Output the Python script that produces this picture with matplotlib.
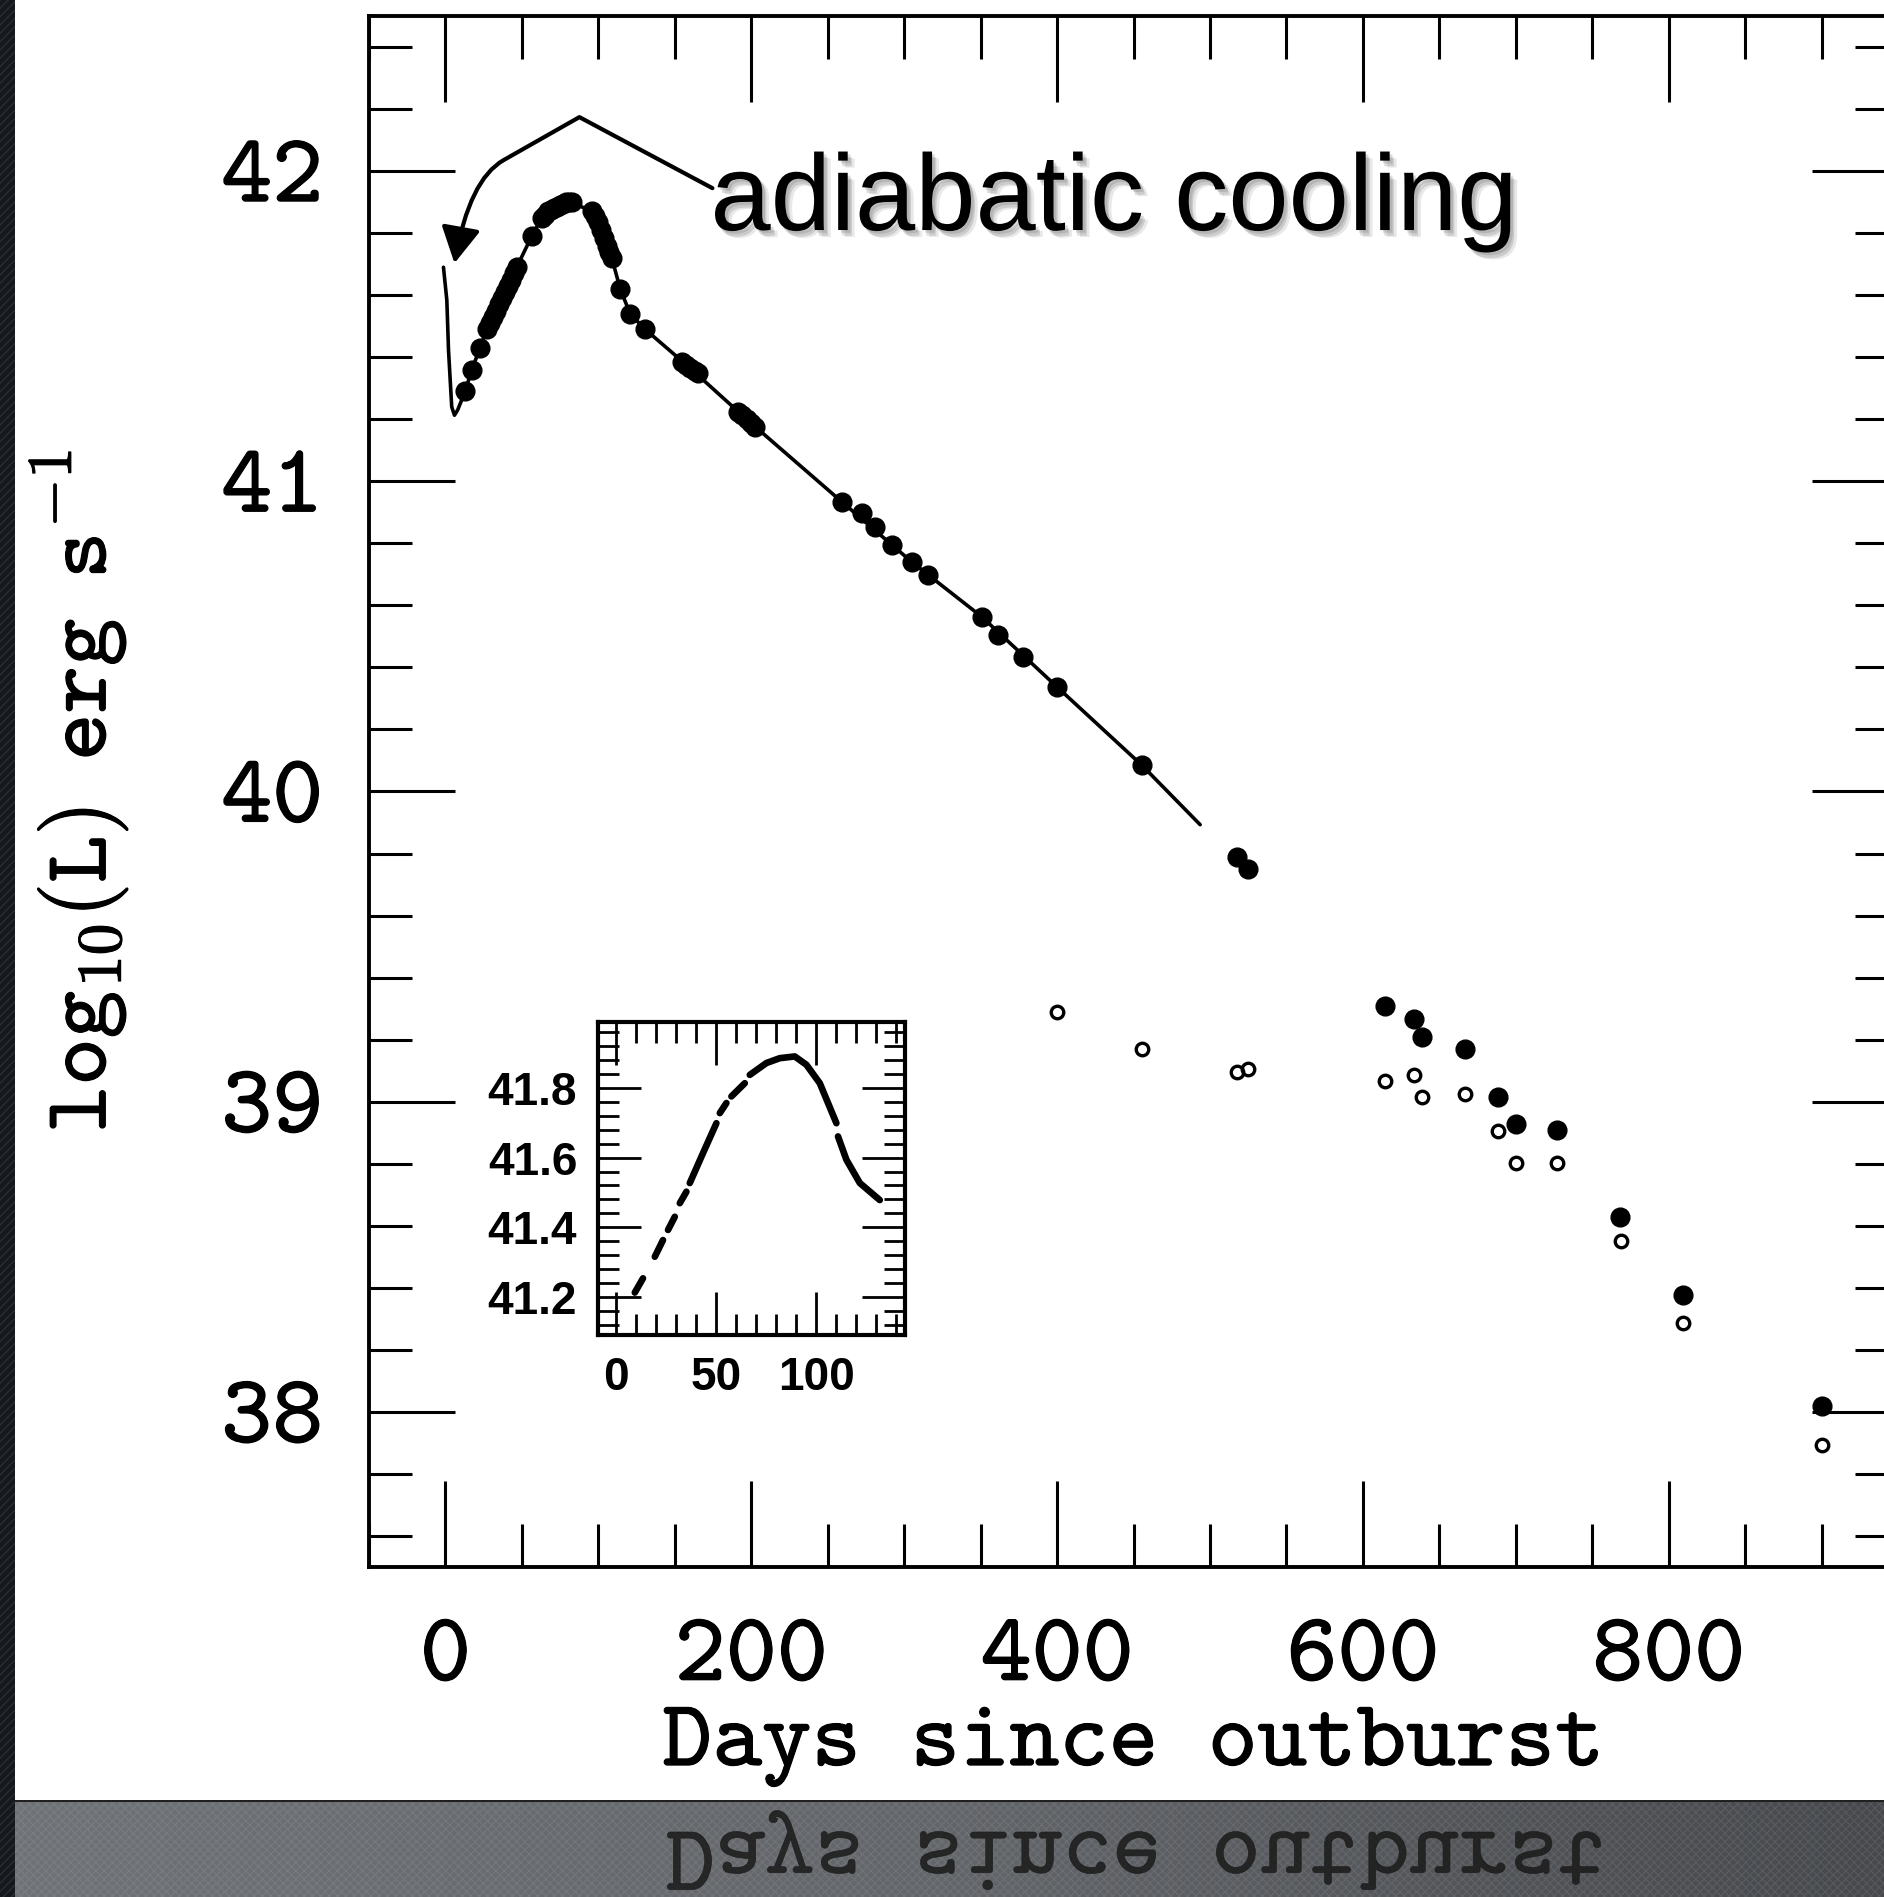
import numpy as np
import matplotlib
matplotlib.use("Agg")
import matplotlib.pyplot as plt
import matplotlib.patheffects as pe
from matplotlib.ticker import MultipleLocator
from matplotlib.patches import Rectangle, PathPatch, FancyArrowPatch
from matplotlib.path import Path
from matplotlib.textpath import TextPath
from matplotlib.font_manager import FontProperties
from matplotlib.transforms import Affine2D
from matplotlib.colors import LinearSegmentedColormap

plt.rcParams['font.family'] = 'cmtt10'
plt.rcParams['mathtext.fontset'] = 'cm'
plt.rcParams['axes.unicode_minus'] = False

nan = np.nan

# model light curve (solid line)
model_days = [-1.3, 0.9, 2.0, 4.1, 5.9, 8.0, 12.9, 17.2, 22.7, 27.0, 37.0, 46.6,
              56.4, 63.0, 72.0, 82.6, 89.0, 95.7, 103.0, 108.8, 114.3, 120.8,
              130.6, 160.0, 197.0, 259.2, 305.0, 350.8, 399.8, 455.4, 493.6]
model_logL = [41.69, 41.584, 41.423, 41.24, 41.213, 41.23, 41.29, 41.36, 41.43,
              41.49, 41.59, 41.69, 41.79, 41.85, 41.882, 41.90, 41.885, 41.87,
              41.79, 41.72, 41.62, 41.54, 41.49, 41.365, 41.20, 40.934, 40.74,
              40.563, 40.338, 40.085, 39.893]

# bolometric points (filled)
bol_days = [12.9, 17.2, 22.7, 27.0, 29.0, 31.0, 33.0, 35.0, 37.0, 39.0, 41.0,
            43.0, 45.0, 46.6, 56.4, 63.0, 65.0, 67.0, 69.0, 71.0, 73.0, 75.0,
            77.0, 79.0, 81.0, 82.6, 95.7, 97.5, 99.5, 101.5, 103.5, 105.5,
            107.0, 108.8, 114.3, 120.8, 130.6, 154.5, 157.0, 160.0, 163.0,
            165.5, 191.6, 194.0, 197.0, 200.0, 202.6, 259.2, 272.3, 281.0,
            291.9, 305.0, 315.9, 350.8, 361.7, 378.0, 399.8, 455.4, 517.5,
            525.2, 614.4, 633.4, 638.7, 666.8, 688.2, 699.9, 726.7, 768.1,
            809.5, 900.1]
bol_logL = [41.29, 41.36, 41.43, 41.49, 41.51, 41.53, 41.55, 41.57, 41.59,
            41.61, 41.63, 41.65, 41.67, 41.69, 41.79, 41.85, 41.86, 41.87,
            41.875, 41.88, 41.885, 41.89, 41.895, 41.90, 41.90, 41.90, 41.87,
            41.855, 41.835, 41.81, 41.785, 41.76, 41.74, 41.72, 41.62, 41.54,
            41.49, 41.385, 41.375, 41.365, 41.355, 41.348, 41.224, 41.213,
            41.20, 41.187, 41.176, 40.934, 40.897, 40.853, 40.794, 40.74,
            40.698, 40.563, 40.504, 40.434, 40.338, 40.085, 39.79, 39.75,
            39.308, 39.268, 39.208, 39.17, 39.016, 38.929, 38.909, 38.629,
            38.378, 38.019]

# open circles
low_days = [399.8, 455.4, 517.5, 525.2, 614.4, 633.4, 638.7, 666.8, 688.2,
            700.3, 727.1, 768.6, 809.5, 900.6]
low_logL = [39.29, 39.17, 39.096, 39.104, 39.067, 39.085, 39.014, 39.025,
            38.907, 38.802, 38.802, 38.55, 38.287, 37.893]

# inset: early light curve, pieces split by gaps
inset_days = [9.2, 13.3, nan, 19.2, 23.3, nan, 25.8, 29.2, nan, 31.7, 35.0, nan,
              36.7, 43.3, 50.0, nan, 51.7, 55.0, nan, 57.5, 64.2, nan, 66.7,
              75.0, 81.7, 89.2, 95.0, 101.7, 110.0, nan, 110.8, 115.0, 121.7,
              131.7]
inset_logL = [41.212, 41.253, nan, 41.315, 41.363, nan, 41.392, 41.43, nan,
              41.469, 41.502, nan, 41.527, 41.613, 41.699, nan, 41.728, 41.757,
              nan, 41.776, 41.814, nan, 41.838, 41.872, 41.886, 41.891, 41.867,
              41.814, 41.699, nan, 41.661, 41.594, 41.527, 41.478]

xticks_main = [0, 200, 400, 600, 800]
yticks_main = [38, 39, 40, 41, 42]
xticks_inset = [0, 50, 100]
yticks_inset = [41.2, 41.4, 41.6, 41.8]

W, H = 1884, 1897
fig = plt.figure(figsize=(W / 100, H / 100), dpi=100)
fig.patch.set_facecolor('white')


def px_box(left, top, right, bottom):
    return [left / W, 1 - bottom / H, (right - left) / W, (bottom - top) / H]


# scanned fonts look a bit heavier than cmtt10
heavy = [pe.withStroke(linewidth=0.8, foreground='black')]

# ---- main panel ----
ax = fig.add_axes(px_box(369, 16, 1898, 1567))
ax.plot(model_days, model_logL, color='black', lw=2.6,
        solid_joinstyle='round', solid_capstyle='round')
ax.plot(bol_days, bol_logL, 'o', color='black', ms=13.5)
ax.plot(low_days, low_logL, 'o', mfc='none', mec='black', ms=9, mew=2.4)

ax.set_xlim(-50, 950)
ax.set_ylim(37.5, 42.5)
ax.set_xticks(xticks_main, [str(v) for v in xticks_main], path_effects=heavy)
ax.set_yticks(yticks_main, [str(v) for v in yticks_main], path_effects=heavy)
ax.xaxis.set_minor_locator(MultipleLocator(50))
ax.yaxis.set_minor_locator(MultipleLocator(0.2))
ax.tick_params(which='both', direction='in', top=True, right=True, width=2.2)
ax.tick_params(which='major', length=62, labelsize=70)
ax.tick_params(axis='x', which='major', pad=38)
ax.tick_params(axis='y', which='major', pad=33)
ax.tick_params(which='minor', length=31)
for s in ax.spines.values():
    s.set_linewidth(2.8)

ax.set_xlabel('Days since outburst', fontsize=68, path_effects=heavy)
ax.xaxis.set_label_coords(0.5, -0.0903)
ax.set_ylabel(r'$\mathtt{log_{10}(L)\enspace erg\enspace s^{-1}}$', fontsize=65,
              path_effects=heavy)
ax.yaxis.set_label_coords(-0.156, 0.5)

# annotation
shadow = [pe.SimplePatchShadow(offset=(2, -2), shadow_rgbFace='#666666', alpha=0.22),
          pe.SimplePatchShadow(offset=(3, -4), shadow_rgbFace='#666666', alpha=0.22),
          pe.SimplePatchShadow(offset=(5, -5), shadow_rgbFace='#666666', alpha=0.15),
          pe.Normal()]
ax.text(173.3, 41.81, 'adiabatic cooling', fontsize=78, family='Liberation Sans',
        ha='left', va='baseline', color='black', path_effects=shadow)

arrow_path = Path([(174.6, 41.945), (87.6, 42.174), (37.9, 42.035),
                   (15.7, 41.973), (5.9, 41.703)],
                  [Path.MOVETO, Path.LINETO, Path.LINETO, Path.CURVE3, Path.CURVE3])
arrow = FancyArrowPatch(path=arrow_path, arrowstyle='-|>,head_length=0.55,head_width=0.3',
                        mutation_scale=40, lw=3, color='black', joinstyle='round')
ax.add_patch(arrow)

# ---- inset ----
axin = fig.add_axes(px_box(598, 1022, 905, 1335))
axin.plot(inset_days, inset_logL, color='black', lw=4.8, solid_capstyle='round')
axin.set_xlim(-9.2, 144.3)
axin.set_ylim(41.09, 41.99)
inset_font = dict(family='Liberation Sans', weight='bold', size=33)
axin.set_xticks(xticks_inset, [str(v) for v in xticks_inset], **inset_font)
axin.set_yticks(yticks_inset, ['%.1f' % v for v in yticks_inset], **inset_font)
axin.xaxis.set_minor_locator(MultipleLocator(10))
axin.yaxis.set_minor_locator(MultipleLocator(0.04))
axin.tick_params(which='both', direction='in', top=True, right=True, width=2, pad=15)
axin.tick_params(which='major', length=31)
axin.tick_params(which='minor', length=15)
for s in axin.spines.values():
    s.set_linewidth(3)

# ---- slide decoration: dark left edge ----
fig.add_artist(Rectangle((0, 0), 15 / W, 1, transform=fig.transFigure,
                         facecolor='#15181c', edgecolor='#2a2e34', hatch='////', lw=0))

# ---- bottom reflection strip ----
strip_h = 97
axb = fig.add_axes([15 / W, 0, 1 - 15 / W, strip_h / H])
axb.set_axis_off()
axb.set_xlim(15, W)
axb.set_ylim(0, strip_h)
grad = np.linspace(0, 1, 200).reshape(1, -1)
cmap = LinearSegmentedColormap.from_list('strip', ['#6f7276', '#626569', '#46484c'])
axb.imshow(grad, extent=(15, W, 0, strip_h), aspect='auto', cmap=cmap, vmin=0, vmax=1)
axb.add_patch(Rectangle((15, 0), W, strip_h, facecolor='none',
                        edgecolor=(1, 1, 1, 0.08), hatch='xxxx', lw=0))
axb.axhline(strip_h - 1, color='#202020', lw=1.5)

k = 100 / 72
tp = TextPath((0, 0), 'Days since outburst', size=68, prop=FontProperties(family='cmtt10'))
ext = tp.get_extents()
x0 = 1134 - k * (ext.x0 + ext.x1) / 2
refl = PathPatch(tp, transform=Affine2D().scale(k, -k).translate(x0, 65) + axb.transData,
                 facecolor='#1a1a1a', edgecolor='#1a1a1a', lw=0.5, alpha=0.85)
axb.add_patch(refl)

fig.savefig('out.png', dpi=100, facecolor='white')
